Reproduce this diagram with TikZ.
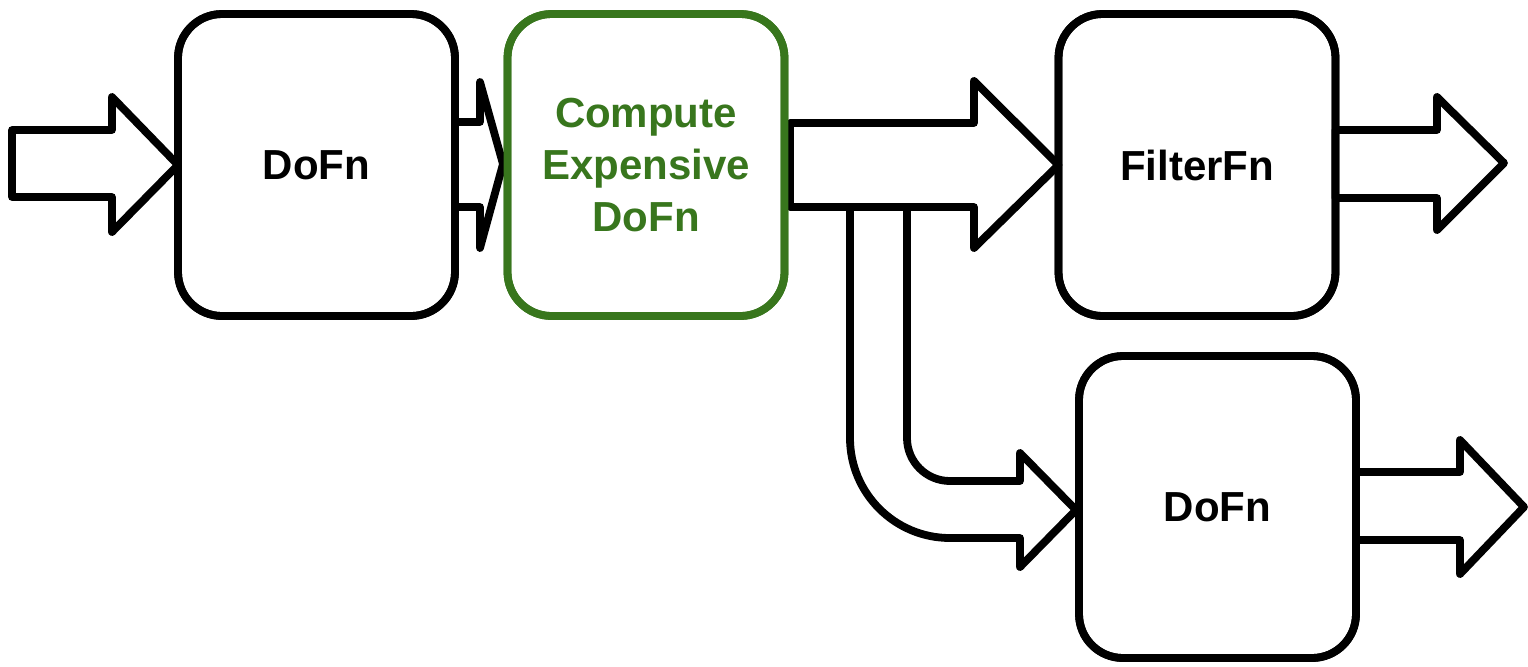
\documentclass[tikz,border=0pt]{standalone}
\usepackage{fontspec}
\setmainfont{Liberation Sans}
\definecolor{leafgreen}{HTML}{38761D}
\tikzset{
  stage/.style={draw, fill=white, rounded corners=22pt, minimum width=138.5pt,
    minimum height=151pt, inner sep=0pt, outer sep=0pt, align=center,
    font=\fontsize{21pt}{26pt}\selectfont\bfseries},
  hotstage/.style={stage, draw=leafgreen, text=leafgreen},
  blockarrow/.style={draw, fill=white, line join=round},
}
\begin{document}
\begin{tikzpicture}[x=0.5pt, y=-0.5pt, line width=3.9pt]
\useasboundingbox (0,0) rectangle (1528,666);

% processing stages
\node[stage]    (dofnA)   at (316.5,165) {DoFn};
\node[hotstage] (compute) at (646,165)   {Compute\\Expensive\\DoFn};
\node[stage]    (filter)  at (1197,165)  {FilterFn};
\node[stage]    (dofnB)   at (1217.5,507) {DoFn};

% input into the first stage
\draw[blockarrow] (12,130) -- (112,130) -- (112,97) -- (dofnA.west)
  -- (112,232) -- (112,197) -- (12,197) -- cycle;

% narrow hand-off between the first two stages
\draw[blockarrow] (dofnA.east |- 0,122) -- (480,122) -- (480,82) -- (503,164)
  -- (480,248) -- (480,207) -- (dofnA.east |- 0,207) -- cycle;

% branch down to the lower DoFn
\draw[blockarrow] (850,207)
  [rounded corners=50pt] -- (850,538) [sharp corners] -- (1020,538)
  -- (1020,567) -- (1076,510) -- (1020,453) -- (1020,481)
  [rounded corners=21.5pt] -- (907,481) [sharp corners] -- (907,207) -- cycle;

% main output of the expensive stage
\draw[blockarrow] (790,123) -- (974,123) -- (974,81) -- (filter.west)
  -- (974,248) -- (974,207) -- (790,207) -- cycle;

% outputs of the final stages
\draw[blockarrow] (filter.east |- 0,130) -- (1437,130) -- (1437,97) -- (1504,163)
  -- (1437,230) -- (1437,198) -- (filter.east |- 0,198) -- cycle;
\draw[blockarrow] (dofnB.east |- 0,472) -- (1460,472) -- (1460,440) -- (1524,507)
  -- (1460,574) -- (1460,540) -- (dofnB.east |- 0,540) -- cycle;

% redraw stage borders over the arrow tails
\foreach \n in {dofnA,filter,dofnB}
  \draw[rounded corners=22pt] (\n.south west) rectangle (\n.north east);
\draw[leafgreen, rounded corners=22pt] (compute.south west) rectangle (compute.north east);
\end{tikzpicture}
\end{document}
